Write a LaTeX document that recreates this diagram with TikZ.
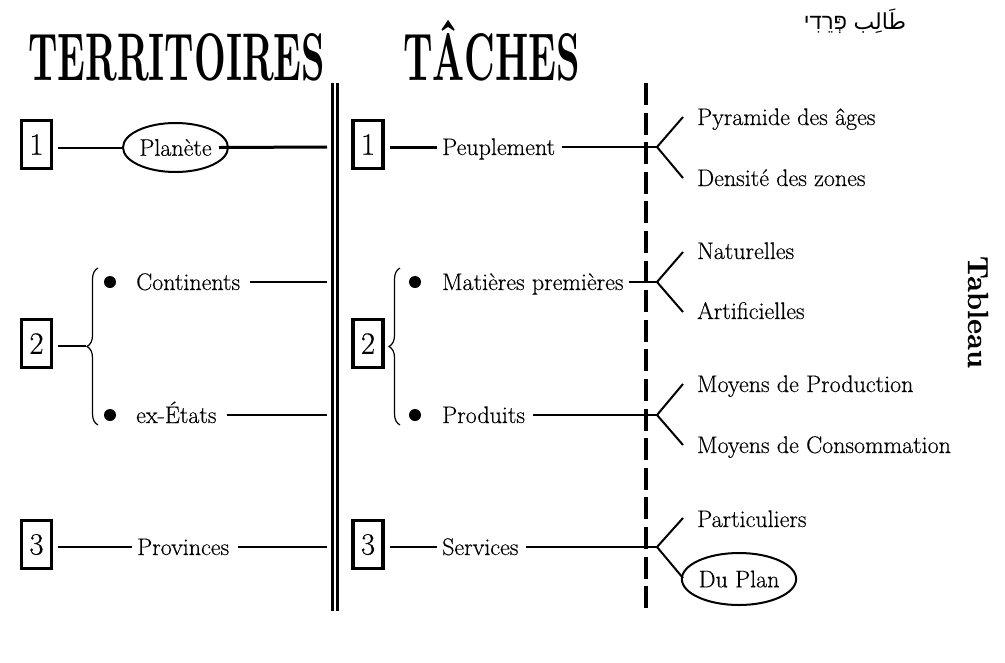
\documentclass[tikz,border=0pt]{standalone}
\usepackage{fontspec}
\usepackage{graphicx}
\usetikzlibrary{decorations.pathreplacing,shapes.geometric}
\newfontfamily\lblfont{Latin Modern Roman}[FakeBold=0.4]
\newfontfamily\tabfont{Latin Modern Roman}[FakeBold=0.5]
\newfontfamily\arabicfont[Script=Arabic]{DejaVu Sans}
\newfontfamily\hebrewfont[Script=Hebrew]{Liberation Sans}
\TeXXeTstate=1
\begin{document}
\begin{tikzpicture}[x=1pt,y=-1pt,
  lbl/.style={inner xsep=5pt, inner ysep=0pt, text height=16pt, text depth=0pt,
              font=\lblfont\fontsize{24}{28}\selectfont, anchor=west},
  numbox/.style={draw, line width=3.2pt, minimum width=30pt, minimum height=48pt,
                 inner sep=0pt, font=\lblfont\fontsize{31}{34}\selectfont},
  oval/.style={draw, ellipse, line width=2pt, inner sep=0pt,
               font=\lblfont\fontsize{24}{28}\selectfont},
  conn/.style={line width=2pt},
  thick conn/.style={line width=3pt},
  bullet/.style={circle, fill=black, inner sep=0pt, minimum size=12pt},
  bracebar/.style={decorate, decoration={brace, amplitude=11pt}, line width=1.2pt},
  title/.style={anchor=base west, inner sep=0pt},
]
\useasboundingbox (0,0) rectangle (1005,662);

% titles
\node[title] (t1) at (28,80) {\resizebox{297pt}{47pt}{\bfseries TERRITOIRES}};
\node[title] (t2) at (403,80) {\resizebox{177pt}{47pt}{\bfseries T\smash{Â}CHES}};
\node[anchor=center, inner sep=0pt] (sig) at (855,21)
  {\fontsize{22}{26}\selectfont\beginR{\arabicfont طَالِب} {\hebrewfont פְּרֵדִי}\endR};
\node[rotate=-90, anchor=base, inner sep=0pt, font=\tabfont\bfseries\fontsize{29}{32}\selectfont] (tab) at (968,312) {Tableau};

% separators
\coordinate (d1t) at (332.5,83); \coordinate (d1b) at (332.5,611);
\coordinate (d2t) at (337.5,83); \coordinate (d2b) at (337.5,611);
\draw[line width=3.2pt] (d1t) -- (d1b);
\draw[line width=3.2pt] (d2t) -- (d2b);
\coordinate (dt) at (646,83); \coordinate (db) at (646,611);
\draw[line width=3.7pt, dash pattern=on 22pt off 7.6pt] (dt) -- (db);

% ---------- left column ----------
\node[numbox] (L1) at (36.5,144.5) {1};
\node[numbox] (L2) at (36.5,343.5) {2};
\node[numbox] (L3) at (36.5,544.5) {3};

\node[oval, minimum width=105pt, minimum height=49pt] (pl) at (175.5,147.5) {Planète};
\coordinate (e1) at (327,147);
\draw[conn, shorten <=5pt] (L1.east |- pl.west) -- (pl.west);
\draw[thick conn] ([xshift=-10pt]pl.east) -- (e1);

\coordinate (lbt) at (86,346);
\draw[conn, shorten <=5pt] (L2.east |- lbt) -- (lbt);
\draw[bracebar] (98,425) -- (98,268);
\node[bullet] (lb1) at (110,282) {};
\node[bullet] (lb2) at (110,415) {};
\node[lbl] (cont) at (131,282) {Continents};
\node[lbl] (exet) at (131,415) {ex-États};
\coordinate (e2) at (327,282);
\coordinate (e3) at (327,415);
\draw[conn] ([xshift=5pt]cont.east) -- (e2);
\draw[conn] ([xshift=5pt]exet.east) -- (e3);

\node[lbl] (prov) at (132,547) {Provinces};
\coordinate (e4) at (327,547);
\draw[conn, shorten <=5pt] (L3.east |- prov.west) -- (prov.west);
\draw[conn] ([xshift=4pt]prov.east) -- (e4);

% ---------- middle column ----------
\node[numbox] (R1) at (368,144.5) {1};
\node[numbox] (R2) at (368,343.5) {2};
\node[numbox] (R3) at (368,544.5) {3};

\node[lbl] (peu) at (437,147) {Peuplement};
\draw[thick conn, shorten <=5pt] (R1.east |- peu.west) -- (peu.west);

\draw[bracebar] (400,425) -- (400,268);
\node[bullet] (rb1) at (415,282) {};
\node[bullet] (rb2) at (415,415) {};
\node[lbl] (mat) at (437,282) {Matières premières};
\node[lbl] (prod) at (437,415) {Produits};

\node[lbl] (serv) at (437,547) {Services};
\draw[conn, shorten <=5pt] (R3.east |- serv.west) -- (serv.west);

% brackets
\coordinate (a1) at (657,147); \coordinate (a1u) at (683,117); \coordinate (a1d) at (683,178);
\coordinate (a2) at (657,282); \coordinate (a2u) at (683,252); \coordinate (a2d) at (683,312);
\coordinate (a3) at (657,415); \coordinate (a3u) at (683,384); \coordinate (a3d) at (683,445);
\coordinate (a4) at (657,547); \coordinate (a4u) at (683,518); \coordinate (a4d) at (683,578);

\draw[conn] ([xshift=2pt]peu.east) -- (a1);
\draw[conn] (mat.east) -- (a2);
\draw[conn] ([xshift=3pt]prod.east) -- (a3);
\draw[conn] ([xshift=2pt]serv.east) -- (a4);
\draw[conn, line join=miter] (a1u) -- (a1) -- (a1d);
\draw[conn, line join=miter] (a2u) -- (a2) -- (a2d);
\draw[conn, line join=miter] (a3u) -- (a3) -- (a3d);
\draw[conn, line join=miter] (a4u) -- (a4) -- (a4d);

% ---------- right column ----------
\node[lbl] (pyr) at (692,117) {Pyramide des âges};
\node[lbl] (den) at (692,178) {Densité des zones};
\node[lbl] (nat) at (692,251) {Naturelles};
\node[lbl] (art) at (692,311) {Artificielles};
\node[lbl] (mp) at (692,384) {Moyens de Production};
\node[lbl] (mc) at (692,445) {Moyens de Consommation};
\node[lbl] (part) at (692,519) {Particuliers};
\node[oval, minimum width=106pt, minimum height=52pt] (dp) at (739,579) {Du Plan};
\end{tikzpicture}
\end{document}
